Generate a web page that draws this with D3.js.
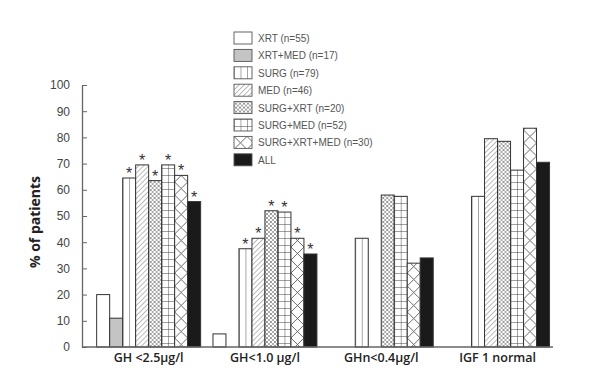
<!DOCTYPE html>
<html>
<head>
<meta charset="utf-8">
<script src="https://cdn.jsdelivr.net/npm/d3@7"></script>
<style>
  body { margin: 0; background: #fff; }
  svg { display: block; }
</style>
</head>
<body>
<svg width="600" height="384"></svg>
<script>
// groups on the x axis
var groups = ["GH <2.5\u00b5g/l", "GH<1.0 \u00b5g/l", "GHn<0.4\u00b5g/l", "IGF 1 normal"];

// treatment series (legend order)
var seriesNames = ["XRT (n=55)", "XRT+MED (n=17)", "SURG (n=79)", "MED (n=46)",
                   "SURG+XRT (n=20)", "SURG+MED (n=52)", "SURG+XRT+MED (n=30)", "ALL"];
var seriesKeys = ["xrt", "xrtMed", "surg", "med", "surgXrt", "surgMed", "surgXrtMed", "all"];

// % of patients per group (null = no bar)
var xrt        = [20, 5, null, null];
var xrtMed     = [11, null, null, null];
var surg       = [64.5, 37.5, 41.5, 57.5];
var med        = [69.5, 41.5, null, 79.5];
var surgXrt    = [63.5, 52, 58, 78.5];
var surgMed    = [69.5, 51.5, 57.5, 67.5];
var surgXrtMed = [65.5, 41.5, 32, 83.5];
var all        = [55.5, 35.5, 34, 70.5];

// significance stars per group
var starred = [
  ["surg", "med", "surgXrt", "surgMed", "surgXrtMed", "all"],
  ["surg", "med", "surgXrt", "surgMed", "surgXrtMed", "all"],
  [],
  []
];

var yTicks = [0, 10, 20, 30, 40, 50, 60, 70, 80, 90, 100];

var values = { xrt: xrt, xrtMed: xrtMed, surg: surg, med: med, surgXrt: surgXrt,
               surgMed: surgMed, surgXrtMed: surgXrtMed, all: all };

var svg = d3.select("svg");
var ink = "#333";

// patterns
var defs = svg.append("defs");
function pattern(id, w, h) {
  return defs.append("pattern").attr("id", id)
    .attr("patternUnits", "userSpaceOnUse")
    .attr("width", w).attr("height", h);
}
var p;
p = pattern("p-surg", 6.5, 10);
p.append("rect").attr("width", 6.5).attr("height", 10).attr("fill", "#fff");
p.append("line").attr("x1", 0).attr("x2", 0).attr("y1", 0).attr("y2", 10)
  .attr("stroke", ink).attr("stroke-width", 0.9);

p = pattern("p-med", 3.6, 3.6).attr("patternTransform", "rotate(45)");
p.append("rect").attr("width", 3.6).attr("height", 3.6).attr("fill", "#fff");
p.append("line").attr("x1", 0).attr("x2", 0).attr("y1", 0).attr("y2", 3.6)
  .attr("stroke", "#555").attr("stroke-width", 0.8);

p = pattern("p-surgXrt", 4, 4);
p.append("rect").attr("width", 4).attr("height", 4).attr("fill", "#fff");
p.append("path").attr("d", "M0,0L4,4M4,0L0,4")
  .attr("stroke", "#777").attr("stroke-width", 0.6);
p.append("circle").attr("cx", 2).attr("cy", 2).attr("r", 0.5).attr("fill", "#444");

p = pattern("p-surgMed", 6.5, 7);
p.append("rect").attr("width", 6.5).attr("height", 7).attr("fill", "#fff");
p.append("path").attr("d", "M0,0V7M0,0H6.5")
  .attr("stroke", ink).attr("stroke-width", 0.9);

p = pattern("p-surgXrtMed", 13, 13);
p.append("rect").attr("width", 13).attr("height", 13).attr("fill", "#fff");
p.append("path").attr("d", "M0,0L13,13M13,0L0,13")
  .attr("stroke", "#444").attr("stroke-width", 0.8);

var fills = {
  xrt: "#fff", xrtMed: "#c4c4c4", surg: "url(#p-surg)", med: "url(#p-med)",
  surgXrt: "url(#p-surgXrt)", surgMed: "url(#p-surgMed)",
  surgXrtMed: "url(#p-surgXrtMed)", all: "#1a1a1a"
};

// scales
var x0 = d3.scaleBand().domain(groups).range([90.5, 555.7])
  .paddingInner(0.106).paddingOuter(0.053);
var x1 = d3.scaleBand().domain(seriesKeys).range([0, x0.bandwidth()]);
var y = d3.scaleLinear().domain([0, 100]).range([347, 85]);

var axisX = 82;

// bars
groups.forEach(function(gName, gi) {
  seriesKeys.forEach(function(k) {
    var v = values[k][gi];
    if (v == null) return;
    var bx = x0(gName) + x1(k);
    var bar = svg.append("g").attr("transform", "translate(" + bx + ",0)");
    bar.append("rect")
      .attr("x", 0)
      .attr("y", y(v))
      .attr("width", x1.bandwidth())
      .attr("height", y(0) - y(v))
      .attr("fill", fills[k])
      .attr("stroke", ink)
      .attr("stroke-width", 1);
    if (starred[gi].indexOf(k) >= 0) {
      bar.append("text")
        .attr("x", x1.bandwidth() / 2)
        .attr("y", y(v) + 1)
        .attr("text-anchor", "middle")
        .attr("font-family", "Liberation Sans, Arial, sans-serif")
        .attr("font-size", 16)
        .attr("fill", "#333")
        .text("*");
    }
  });
});

// y axis
var yAxis = svg.append("g")
  .attr("transform", "translate(" + axisX + ",0)")
  .call(d3.axisLeft(y).tickValues(yTicks).tickSizeInner(-5).tickSizeOuter(0).tickPadding(12));
yAxis.select(".domain").attr("stroke", "#666").attr("stroke-width", 1.3);
yAxis.selectAll(".tick line").attr("stroke", "#666");
yAxis.selectAll(".tick text")
  .attr("font-family", "Liberation Sans, Arial, sans-serif")
  .attr("font-size", 12)
  .attr("fill", "#444");

// x axis
svg.append("line")
  .attr("x1", axisX).attr("x2", 553)
  .attr("y1", y(0)).attr("y2", y(0))
  .attr("stroke", "#666").attr("stroke-width", 1.3);
var xAxis = svg.append("g")
  .attr("transform", "translate(0," + y(0) + ")")
  .call(d3.axisBottom(x0).tickSize(0).tickPadding(6));
xAxis.select(".domain").remove();
xAxis.selectAll(".tick text")
  .attr("font-family", "Open Sans, sans-serif")
  .attr("font-weight", 600)
  .attr("font-size", 12.5)
  .attr("fill", "#222");

// y label
svg.append("text")
  .attr("transform", "translate(40,222) rotate(-90)")
  .attr("text-anchor", "middle")
  .attr("font-family", "Open Sans, sans-serif")
  .attr("font-weight", 700)
  .attr("font-size", 14)
  .attr("fill", "#222")
  .text("% of patients");

// legend
var legend = svg.append("g").attr("transform", "translate(234,32)");
seriesKeys.forEach(function(k, i) {
  var row = legend.append("g").attr("transform", "translate(0," + (i * 17.4) + ")");
  row.append("rect")
    .attr("width", 18).attr("height", 12)
    .attr("fill", fills[k])
    .attr("stroke", "#555")
    .attr("stroke-width", 0.9);
  row.append("text")
    .attr("x", 24).attr("y", 10)
    .attr("font-family", "Liberation Sans, Arial, sans-serif")
    .attr("font-size", 10)
    .attr("fill", "#555")
    .text(seriesNames[i]);
});
</script>
</body>
</html>
